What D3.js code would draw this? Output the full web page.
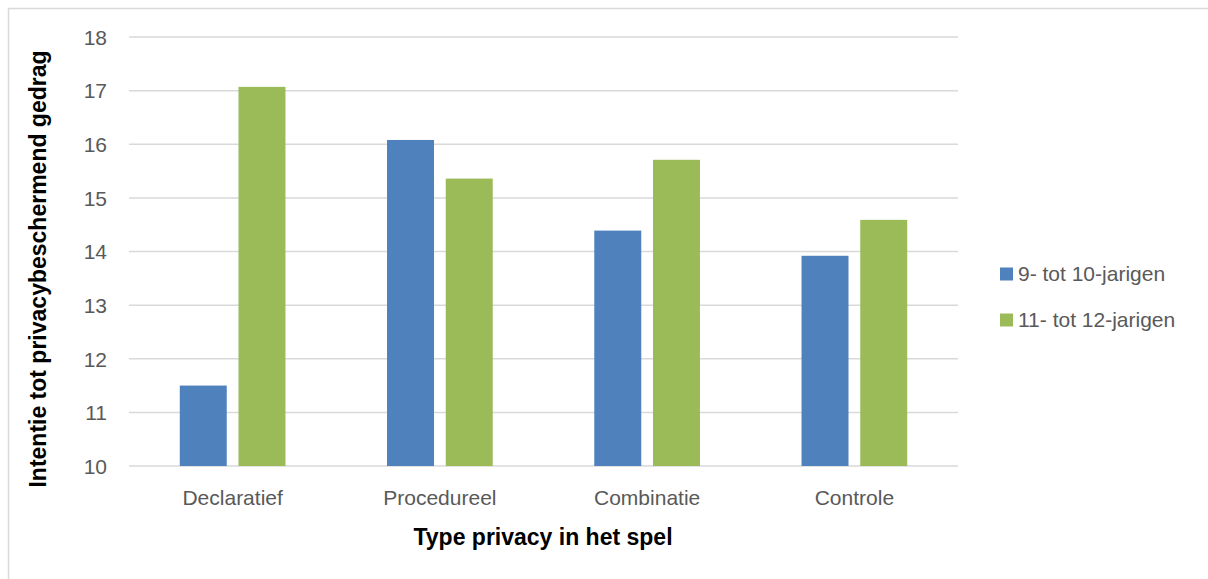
<!DOCTYPE html>
<html>
<head>
<meta charset="utf-8">
<script src="https://cdn.jsdelivr.net/npm/d3@7"></script>
<style>
  body { margin: 0; background: #fff; }
  svg text { font-family: "Liberation Sans", Arial, sans-serif; }
</style>
</head>
<body>
<div id="chart"></div>
<script>
'use strict';

const categories = ['Declaratief', 'Procedureel', 'Combinatie', 'Controle'];
const seriesNames = ['9- tot 10-jarigen', '11- tot 12-jarigen'];
const young = [11.5, 16.08, 14.39, 13.92];
const old = [17.07, 15.36, 15.71, 14.59];
const yTicks = [10, 11, 12, 13, 14, 15, 16, 17, 18];
const colors = ['#4f81bd', '#9bbb59'];

const width = 1208, height = 579;
const plot = { left: 129, right: 958, top: 37, bottom: 466 };

const svg = d3.select('#chart')
    .append('svg')
    .attr('width', width)
    .attr('height', height);

// chart frame
svg.append('rect')
    .attr('x', 8.5).attr('y', 8.5)
    .attr('width', 1230).attr('height', 600)
    .attr('fill', 'none')
    .attr('stroke', '#d9d9d9')
    .attr('stroke-width', 1.5);

const x0 = d3.scaleBand()
    .domain(categories)
    .range([plot.left, plot.right])
    .paddingInner(0.49)
    .paddingOuter(0.245);

const x1 = d3.scaleBand()
    .domain([0, 1])
    .range([0, x0.bandwidth()])
    .paddingInner(0.2);

const y = d3.scaleLinear()
    .domain([10, 18])
    .range([plot.bottom, plot.top]);

// gridlines
svg.append('g')
    .selectAll('line')
    .data(yTicks)
    .join('line')
    .attr('x1', plot.left).attr('x2', plot.right)
    .attr('y1', d => y(d)).attr('y2', d => y(d))
    .attr('stroke', '#d9d9d9')
    .attr('stroke-width', 1.5);

// y tick labels
const yAxis = d3.axisLeft(y).tickValues(yTicks).tickSize(0).tickPadding(0);
svg.append('g')
    .attr('transform', `translate(107,0)`)
    .call(yAxis)
    .call(g => g.select('.domain').remove())
    .call(g => g.selectAll('text')
        .attr('fill', '#595959')
        .style('font-size', '21px')
        .attr('dy', '0.35em'));

// bars
const rows = categories.map((c, i) => ({ cat: c, vals: [young[i], old[i]] }));
svg.append('g')
    .selectAll('g')
    .data(rows)
    .join('g')
    .attr('transform', d => `translate(${x0(d.cat)},0)`)
    .selectAll('rect')
    .data(d => d.vals.map((v, k) => ({ k, v })))
    .join('rect')
    .attr('x', d => x1(d.k))
    .attr('width', x1.bandwidth())
    .attr('y', d => y(d.v))
    .attr('height', d => y(10) - y(d.v))
    .attr('fill', d => colors[d.k]);

// x category labels
const xAxis = d3.axisBottom(x0).tickSize(0).tickPadding(0);
svg.append('g')
    .attr('transform', `translate(0,${plot.bottom + 32})`)
    .call(xAxis)
    .call(g => g.select('.domain').remove())
    .call(g => g.selectAll('text')
        .attr('fill', '#595959')
        .attr('dy', '0.35em')
        .style('font-size', '21px'));

// axis titles
svg.append('text')
    .attr('x', 543).attr('y', 537)
    .attr('dy', '0.35em')
    .attr('text-anchor', 'middle')
    .attr('font-weight', 'bold')
    .style('font-size', '23px')
    .attr('fill', '#000')
    .text('Type privacy in het spel');

svg.append('text')
    .attr('transform', 'translate(38,269) rotate(-90)')
    .attr('dy', '0.35em')
    .attr('text-anchor', 'middle')
    .attr('font-weight', 'bold')
    .style('font-size', '23px')
    .attr('fill', '#000')
    .text('Intentie tot privacybeschermend gedrag');

// legend
const legend = svg.append('g')
    .selectAll('g')
    .data(seriesNames)
    .join('g')
    .attr('transform', (d, i) => `translate(1000,${274 + i * 46})`);

legend.append('rect')
    .attr('x', 0).attr('y', -6.5)
    .attr('width', 13).attr('height', 13)
    .attr('fill', (d, i) => colors[i]);

legend.append('text')
    .attr('x', 18)
    .attr('dy', '0.35em')
    .attr('fill', '#595959')
    .style('font-size', '21px')
    .text(d => d);
</script>
</body>
</html>
